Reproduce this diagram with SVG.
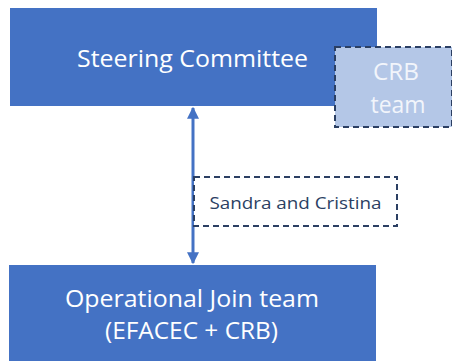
<svg xmlns="http://www.w3.org/2000/svg" width="452" height="361" viewBox="0 0 452 361">
  <style>
    .box { fill: #4472c4; }
    .dash { stroke: #2b3f63; stroke-width: 2; stroke-dasharray: 6 4; }
    .big { font-family: "Open Sans", "Liberation Sans", sans-serif; font-size: 24px; fill: #ffffff; text-anchor: middle; }
    .pale { fill: #f2f5fb; }
    .small { font-family: "Open Sans", "Liberation Sans", sans-serif; font-size: 17px; fill: #2b3f63; text-anchor: middle; }
  </style>
  <defs>
    <marker id="head" markerWidth="4" markerHeight="4" refX="3.6" refY="2" orient="auto-start-reverse" markerUnits="strokeWidth">
      <path d="M0,0 L4,2 L0,4 Z" fill="#4472c4"/>
    </marker>
  </defs>
  <rect width="452" height="361" fill="#ffffff"/>

  <g id="steering-committee">
    <rect class="box" x="10" y="8" width="367" height="98"/>
    <text class="big" x="192.5" y="66.5" textLength="231" lengthAdjust="spacingAndGlyphs">Steering Committee</text>
  </g>

  <g id="crb-team">
    <rect x="335" y="47" width="117" height="80" fill="#b4c7e7" class="dash"/>
    <text class="big pale" x="396" y="80" textLength="46" lengthAdjust="spacingAndGlyphs">CRB</text>
    <text class="big pale" x="398" y="112.5" textLength="55" lengthAdjust="spacingAndGlyphs">team</text>
  </g>

  <g id="operational-team">
    <rect class="box" x="9" y="265" width="367" height="100"/>
    <text class="big" x="192" y="306.5" textLength="254" lengthAdjust="spacingAndGlyphs">Operational Join team</text>
    <text class="big" x="191.5" y="339" textLength="173" lengthAdjust="spacingAndGlyphs">(EFACEC + CRB)</text>
  </g>

  <g id="connectors">
    <line x1="193" y1="108" x2="193" y2="263" stroke="#4472c4" stroke-width="3" marker-start="url(#head)" marker-end="url(#head)"/>
  </g>

  <g id="liaison">
    <rect x="194" y="177" width="203" height="49" fill="#ffffff" class="dash"/>
    <text class="small" x="295.5" y="209" textLength="172" lengthAdjust="spacingAndGlyphs">Sandra and Cristina</text>
  </g>
</svg>
